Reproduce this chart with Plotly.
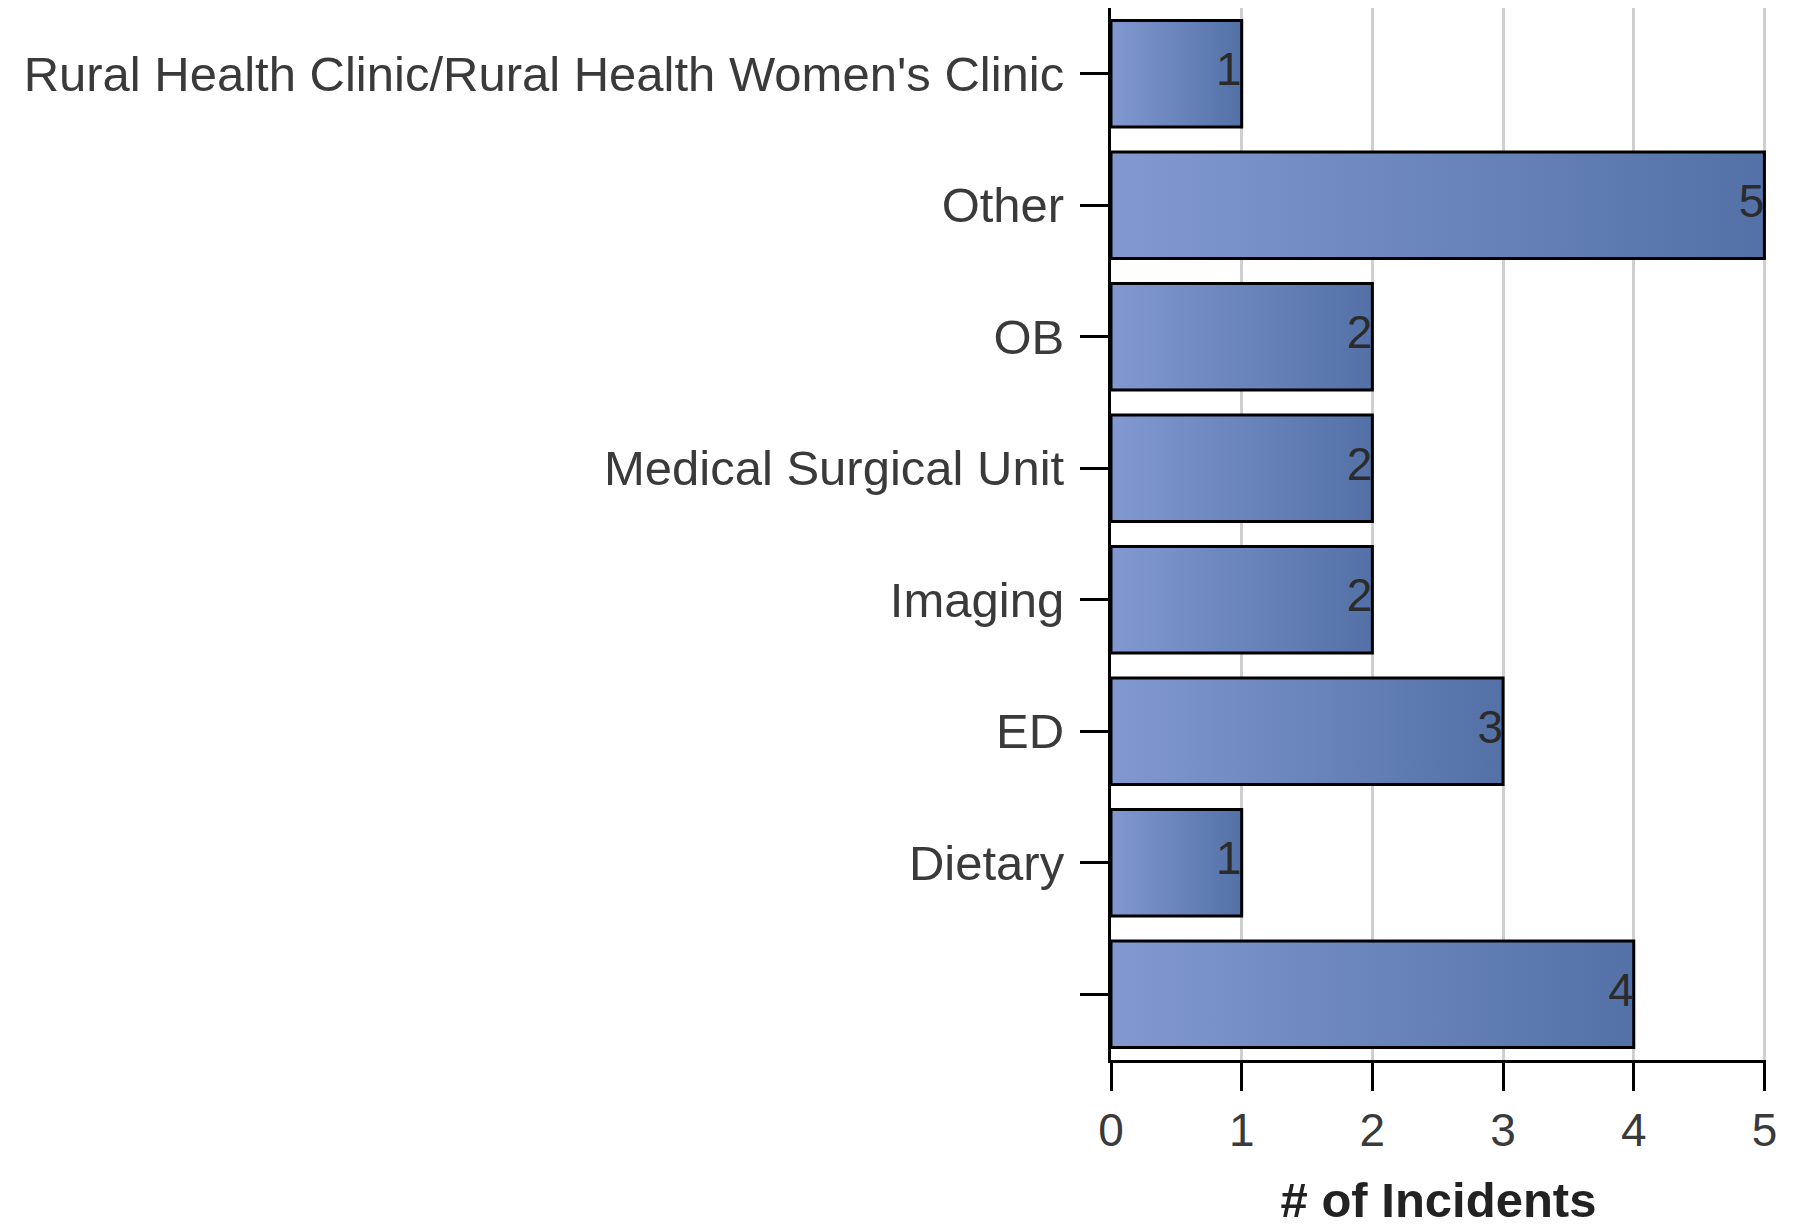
import plotly.graph_objects as go

categories = ["Rural Health Clinic/Rural Health Women's Clinic", "Other", "OB",
              "Medical Surgical Unit", "Imaging", "ED", "Dietary", ""]
incidents = [1, 5, 2, 2, 2, 3, 1, 4]
x_ticks = [0, 1, 2, 3, 4, 5]

FONT = "Liberation Sans, Arial, sans-serif"
HALF = 0.405

fig = go.Figure()
positions = list(range(len(categories)))
for i, v in zip(positions, incidents):
    fig.add_trace(go.Scatter(
        x=[0, v, v, 0, 0],
        y=[i - HALF, i - HALF, i + HALF, i + HALF, i - HALF],
        mode="lines", fill="toself",
        fillgradient=dict(type="horizontal",
                          colorscale=[[0, "#8199d0"], [1, "#5371a7"]]),
        line=dict(color="black", width=3),
        hoverinfo="skip", showlegend=False,
    ))

fig.add_trace(go.Scatter(
    x=incidents, y=positions, mode="text",
    text=[str(v) for v in incidents], textposition="middle left",
    textfont=dict(family=FONT, size=46, color="#2b2b2b"),
    showlegend=False, hoverinfo="skip", cliponaxis=False,
))

fig.update_layout(
    width=1802, height=1225,
    margin=dict(l=1103, r=44, t=0, b=173),
    plot_bgcolor="white", paper_bgcolor="white",
    font=dict(family=FONT, size=46, color="#333333"),
    xaxis=dict(
        range=[0, 5.012], tickvals=x_ticks, ticktext=[str(t) for t in x_ticks],
        showgrid=True, gridcolor="#cfcfcf", gridwidth=3,
        zeroline=False, showline=True, linecolor="black", linewidth=3,
        ticks="outside", ticklen=28, tickwidth=3, tickcolor="black",
        tickfont=dict(size=46, color="#3a3a3a"),
        title=dict(text="<b># of Incidents</b>", font=dict(size=49, color="#222222"),
                   standoff=28),
    ),
    yaxis=dict(
        range=[len(categories) - 0.5, -0.5],
        tickvals=positions, ticktext=categories,
        showgrid=False, zeroline=False, showline=True, linecolor="black", linewidth=3,
        ticks="outside", ticklen=28, tickwidth=3, tickcolor="black",
        ticklabelstandoff=6,
        tickfont=dict(size=49, color="#3a3a3a"),
    ),
)

fig.write_html("out.html")
